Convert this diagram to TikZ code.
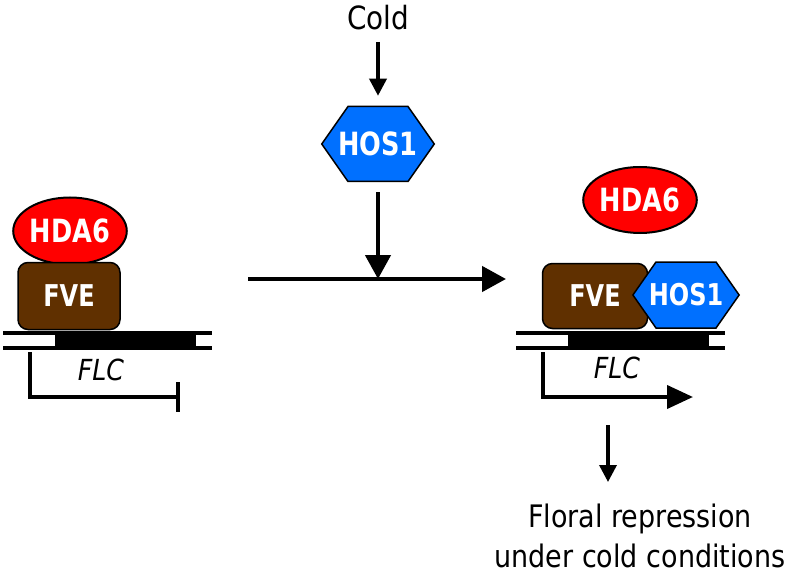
\documentclass[tikz,border=0pt]{standalone}
\usepackage{fontspec}
\setmainfont{DejaVu Sans}[FakeStretch=0.87]
\newfontfamily\lblfont{DejaVu Sans}[FakeStretch=0.8]
\usetikzlibrary{arrows.meta,shapes.geometric,shapes.symbols}
\definecolor{hdared}{RGB}{255,0,0}
\definecolor{fvebrown}{RGB}{96,48,0}
\definecolor{hosblue}{RGB}{0,112,255}
\begin{document}
\begin{tikzpicture}[x=1pt,y=-1pt,
        hda/.style={ellipse,draw=black,line width=2pt,fill=hdared,text=white,
            font=\fontsize{32}{32}\lblfont\bfseries,inner sep=0pt},
        fve/.style={rectangle,rounded corners=10pt,draw=black,line width=1.5pt,fill=fvebrown,
            text=white,font=\fontsize{30}{30}\lblfont\bfseries,inner sep=0pt},
        hos/.style={signal,signal to=west and east,signal pointer angle=110,draw=black,
            line width=1.5pt,fill=hosblue,text=white,inner sep=0pt},
        dna/.style={line width=3.5pt},
        tss/.style={line width=4pt},
        flc/.style={font=\fontsize{29}{29}\selectfont\itshape},
        arr/.style={line width=3.5pt,-{Triangle[length=17pt,width=17pt]}},
        bigarr/.style={line width=4.5pt,-{Triangle[length=24pt,width=25pt]}}]
    \useasboundingbox (0,0) rectangle (797,577);
    % genes: left repressed, right active
    \foreach \dx in {0,513}
    {
        \fill[black] (55+\dx,333) rectangle (196+\dx,348);
        \draw[dna] (3+\dx,333) -- (212+\dx,333);
        \draw[dna] (3+\dx,348) -- (212+\dx,348);
    }
    \node[flc] (flcL) at (101,370) {FLC};
    \node[flc] (flcR) at (617,368) {FLC};
    \coordinate (tssL) at (30,352);
    \coordinate (tssR) at (543,352);
    \draw[tss,-{Bar[width=30pt]}] (tssL) -- (30,397) -- (180,397);
    \draw[tss,-{Triangle[length=26pt,width=23pt]}] (tssR) -- (543,397) -- (693,397);
    % left complex
    \node[hda,minimum width=100pt,minimum height=67pt] (hdaL) at (70,231) {HDA6};
    \node[fve,minimum width=102pt,minimum height=67pt] (fveL) at (69,296) {FVE};
    % cold signal
    \node[font=\fontsize{32}{32}\selectfont] (cold) at (378,18) {Cold};
    \node[hos,minimum height=75pt,font=\fontsize{32}{32}\lblfont\bfseries] (hosT) at (378,144) {\makebox[60pt]{HOS1}};
    \draw[arr] ([yshift=-8pt]cold.south) -- ([yshift=10pt]hosT.north);
    \coordinate (from) at (248,279);
    \coordinate (to) at (506,279);
    \coordinate (mid) at (378,279);
    \draw[bigarr] (from) -- (to);
    \draw[bigarr] ([yshift=-10pt]hosT.south) -- (mid);
    % right complex
    \node[hda,minimum width=111pt,minimum height=66pt] (hdaR) at (640,200) {HDA6};
    \node[fve,minimum width=105pt,minimum height=65pt] (fveR) at (595,296) {FVE};
    \node[hos,minimum height=66pt,font=\fontsize{30}{30}\lblfont\bfseries] (hosR) at (686,295) {\makebox[60pt]{HOS1}};
    % outcome
    \node[font=\fontsize{31}{40}\selectfont,align=center] (out) at (640,536) {Floral repression\\under cold conditions};
    \coordinate (down) at (608,425);
    \draw[arr] (down) -- (down |- {(0,482)});
\end{tikzpicture}
\end{document}
